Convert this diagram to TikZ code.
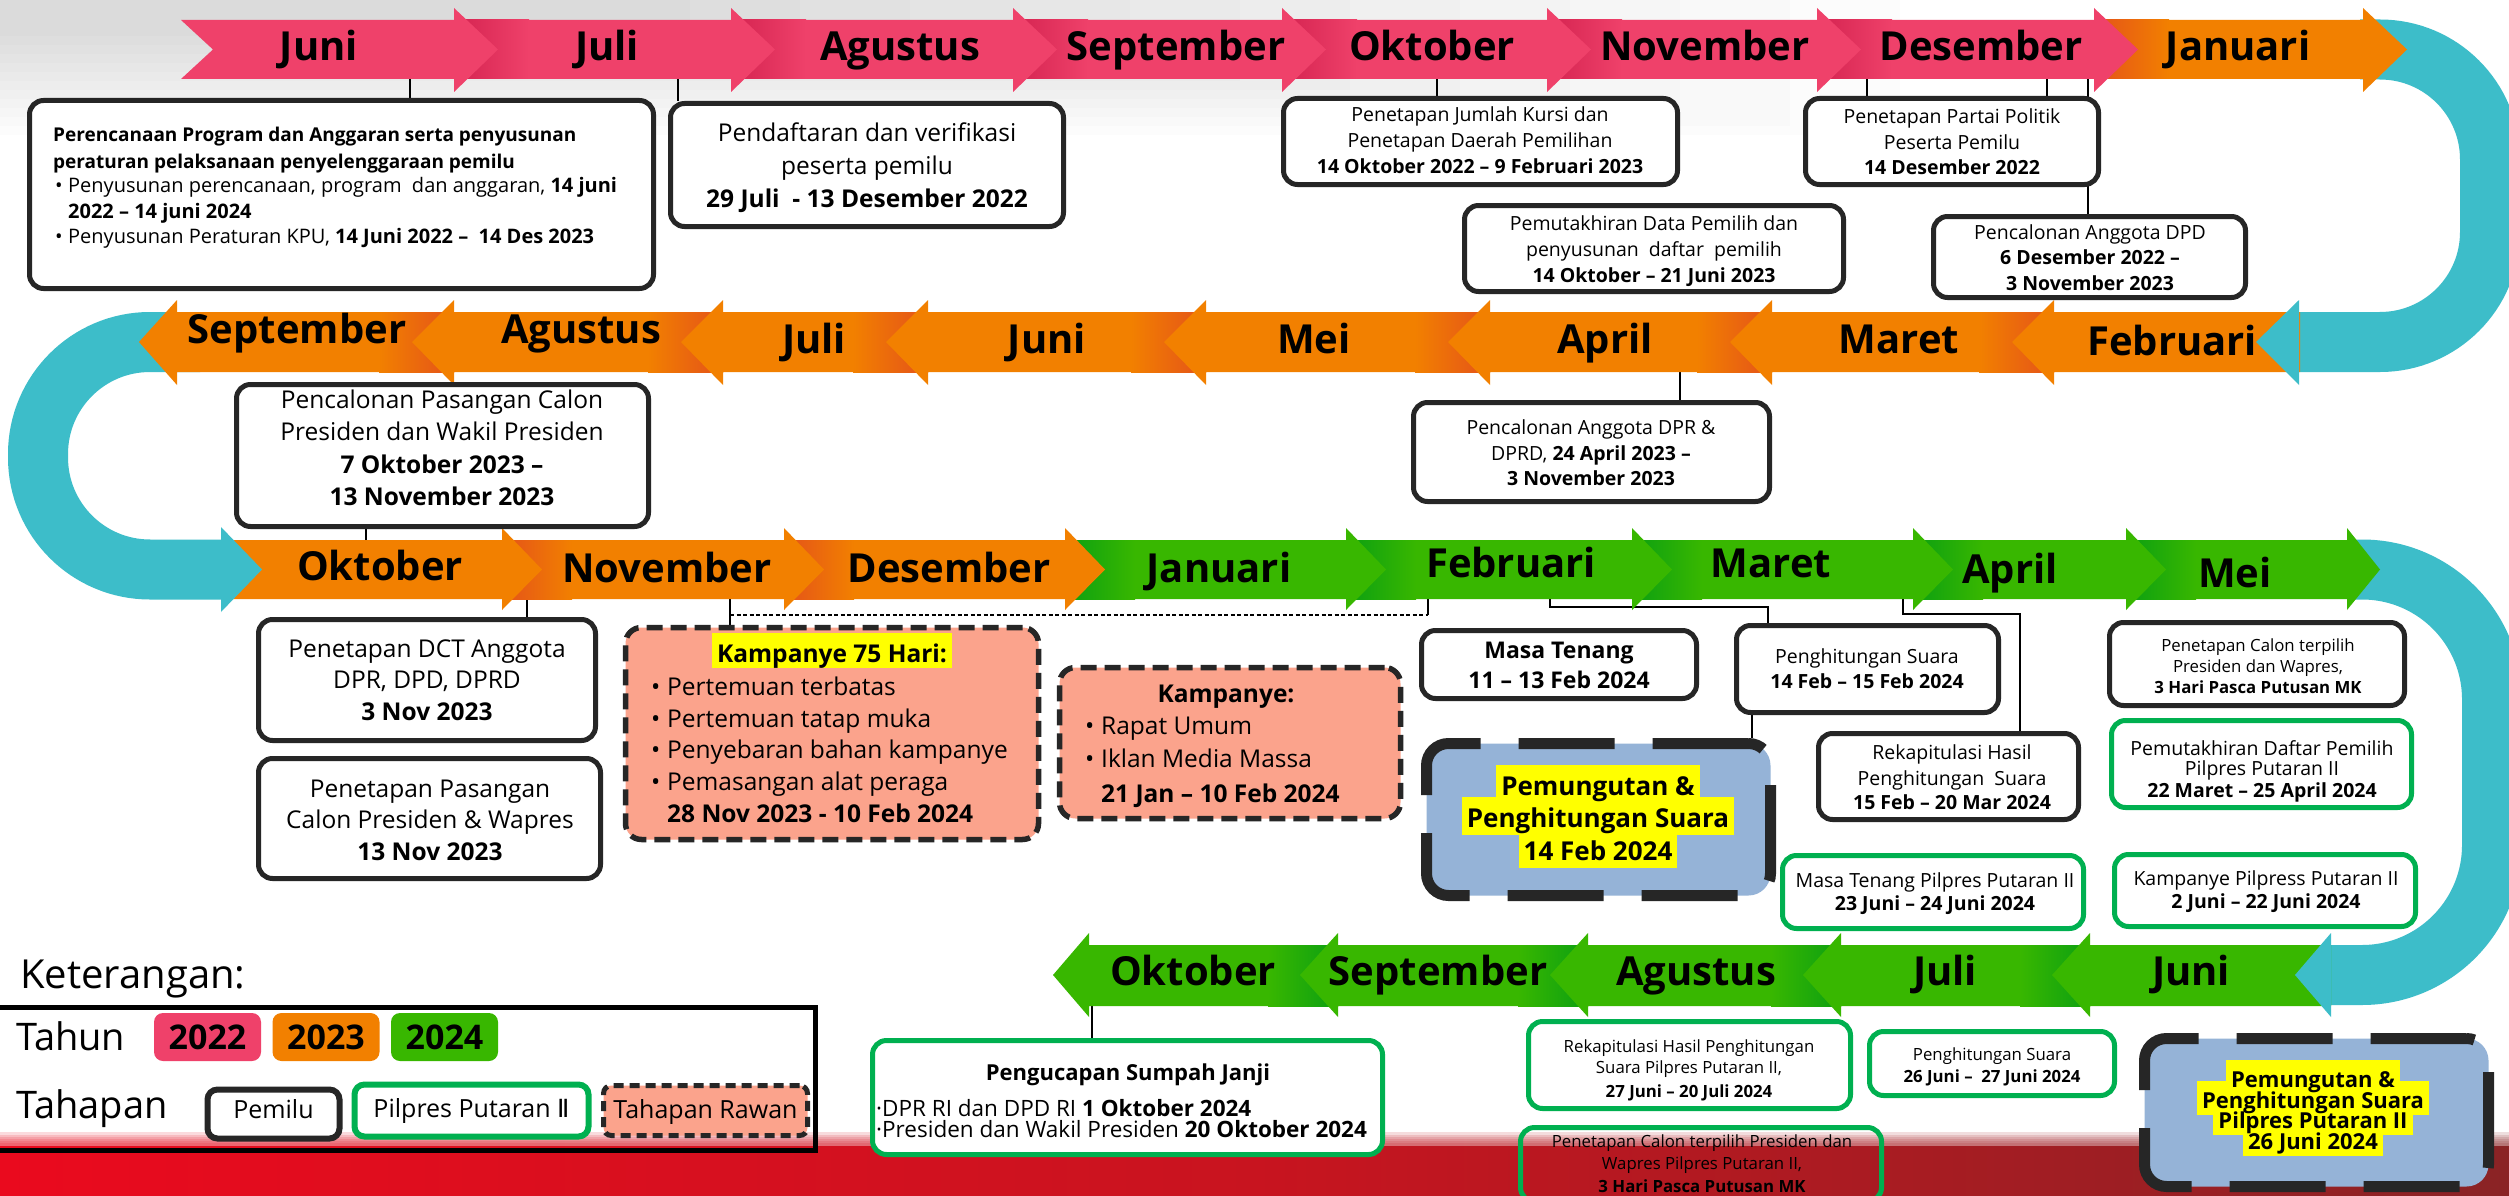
\documentclass[tikz,border=0pt]{standalone}
\usepackage{fontspec}
\setmainfont{Open Sans}
\newfontfamily\dejavu{DejaVu Sans}
\pgfdeclarelayer{bg}
\pgfsetlayers{bg,main}
\definecolor{pinkc}{HTML}{EF416A}
\definecolor{pinkd}{HTML}{D42350}
\definecolor{orangec}{HTML}{F28000}
\definecolor{oranged}{HTML}{E4521A}
\definecolor{greenc}{HTML}{38B700}
\definecolor{greend}{HTML}{0B9F12}
\definecolor{tealc}{HTML}{3DBDC9}
\definecolor{bdark}{HTML}{262626}
\definecolor{gbord}{HTML}{00B050}
\definecolor{salm}{HTML}{FBA38C}
\definecolor{bluef}{HTML}{95B3D7}
\definecolor{hly}{HTML}{FFFF00}
\definecolor{redl}{HTML}{EA0A1E}
\definecolor{redm}{HTML}{C8141F}
\definecolor{redr}{HTML}{8A2325}
\newcommand\fs[1]{\fontsize{#1}{#1}\selectfont}
\newcounter{tlc}
\newcommand\tline[4][]{\stepcounter{tlc}\node[tl,#1] (tl\number\value{tlc}) at (#2,#3) {#4};}
\newcommand\boxnode[6]{\node[#2, minimum width={#5-#3-5}, minimum height={#6-#4-5}] (#1) at ({(#3+#5)/2},{(#4+#6)/2}) {};}
\newcommand\setrow[5]{\def\rT{#1}\def\rB{#2}\def\eT{#3}\def\eB{#4}\def\rM{#5}}
\newcommand\segR[5]{\fill[#4] (#1,\rT) -- (#2,\rT) -- (#2,\eT) -- ({#2+#3},\rM) -- (#2,\eB) -- (#2,\rB) -- (#1,\rB) -- ({#1+#5},\rM) -- cycle;}
\newcommand\segL[4]{\fill[#4] (#2,\rT) -- (#1,\rT) -- (#1,\eT) -- ({#1-#3},\rM) -- (#1,\eB) -- (#1,\rB) -- (#2,\rB) -- cycle;}
\newcommand\shR[4]{\shade[left color=#4, right color=#3] (#1,\rT) rectangle ({#1+#2},\rB);}
\newcommand\shL[4]{\shade[left color=#3, right color=#4] ({#1-#2},\rT) rectangle (#1,\rB);}
\tikzset{
 tl/.style={anchor=base, inner sep=0pt, text=black},
 lw/.style={anchor=base west},
 bk/.style={draw=bdark, line width=5pt, fill=white, rounded corners=14pt, inner sep=0pt},
 gr/.style={draw=gbord, line width=5pt, fill=white, rounded corners=14pt, inner sep=0pt},
 grn/.style={draw=gbord, line width=5pt, rounded corners=14pt, inner sep=0pt},
 sal/.style={draw=bdark, line width=5.5pt, fill=salm, rounded corners=16pt, dash pattern=on 16pt off 8pt, inner sep=0pt},
 blu/.style={draw=bdark, line width=11pt, fill=bluef, rounded corners=22pt, dash pattern=on 96pt off 38pt, inner sep=0pt},
 hl/.style={fill=hly, anchor=base, inner xsep=5pt, inner ysep=0pt},
 mon/.style={anchor=base, inner sep=0pt, font=\fs{40}\bfseries},
 conn/.style={draw=black, line width=2.2pt},
 dotline/.style={draw=black, line width=2pt, dash pattern=on 4pt off 2.5pt},
 f19/.style={font=\fs{19.5}}, f195/.style={font=\fs{19.5}}, f20/.style={font=\fs{20}}, f245/.style={font=\fs{24.5}},
 f168/.style={font=\fs{16.8}}, f22/.style={font=\fs{22.5}}, f25/.style={font=\fs{25}},
 lbk/.style={draw=bdark, line width=6pt, fill=white, rounded corners=10pt, inner sep=0pt},
 lgr/.style={draw=gbord, line width=6pt, fill=white, rounded corners=10pt, inner sep=0pt},
 lsal/.style={draw=bdark, line width=5pt, fill=salm, rounded corners=8pt, dash pattern=on 10pt off 6pt, inner sep=0pt},
 yr/.style={rounded corners=9pt, inner sep=0pt, minimum width=107, minimum height=48, font=\fs{34}\bfseries},
}
\begin{document}
\begin{tikzpicture}[x=1pt,y=-1pt]
\useasboundingbox (0,0) rectangle (2509,1196);
\clip (0,0) rectangle (2509,1196);
\begin{pgfonlayer}{bg}
\fill[white] (0,0) rectangle (2509,1196);
\foreach \i in {0,...,11} {\fill[black, opacity=0.011] (0,0) rectangle ({1900-\i*110},{135-\i*9});}
\shade[left color=redl, right color=redr, middle color=redm] (0,1146) rectangle (2509,1196);
\foreach \i in {1,...,6} {\shade[left color=redl, right color=redr, middle color=redm, opacity=0.15] (0,{1146-\i*2.2}) rectangle (2509,1146);}
\end{pgfonlayer}

% teal U-turns
\draw[tealc, line width=60pt, rounded corners=110pt] (2360,49.5) -- (2490,49.5) -- (2490,342) -- (2299,342);
\draw[tealc, line width=60pt, rounded corners=112pt] (200,342) -- (38,342) -- (38,569.5) -- (222,569.5);
\draw[tealc, line width=60pt, rounded corners=130pt] (2350,569.5) -- (2492,569.5) -- (2492,975) -- (2331,975);

% row 1
\setrow{20}{79}{8}{92}{49.5}
\segR{2094}{2363}{44}{orangec}{0}\shR{2094}{75}{orangec}{oranged}
\segR{1817}{2094}{44}{pinkc}{0}\shR{1817}{75}{pinkc}{pinkd}
\segR{1547}{1817}{44}{pinkc}{0}\shR{1547}{75}{pinkc}{pinkd}
\segR{1282}{1547}{44}{pinkc}{0}\shR{1282}{75}{pinkc}{pinkd}
\segR{1013}{1282}{44}{pinkc}{0}\shR{1013}{75}{pinkc}{pinkd}
\segR{731}{1013}{44}{pinkc}{0}\shR{731}{75}{pinkc}{pinkd}
\segR{454}{731}{44}{pinkc}{0}\shR{454}{75}{pinkc}{pinkd}
\segR{181}{454}{44}{pinkc}{32}
% row 2
\setrow{312}{372}{300}{385}{342}
\segL{177}{454}{38}{orangec}\shL{454}{75}{orangec}{oranged}
\segL{454}{723}{42}{orangec}\shL{723}{75}{orangec}{oranged}
\segL{723}{928}{42}{orangec}\shL{928}{75}{orangec}{oranged}
\segL{928}{1206}{42}{orangec}\shL{1206}{75}{orangec}{oranged}
\segL{1206}{1490}{42}{orangec}\shL{1490}{75}{orangec}{oranged}
\segL{1490}{1772}{42}{orangec}\shL{1772}{75}{orangec}{oranged}
\segL{1772}{2054}{42}{orangec}\shL{2054}{75}{orangec}{oranged}
\segL{2054}{2300}{42}{orangec}
% row 3
\setrow{540}{599}{528}{610}{569.5}
\segR{2126}{2347}{33}{greenc}{0}\shR{2126}{70}{greenc}{greend}
\segR{1913}{2126}{40}{greenc}{0}\shR{1913}{70}{greenc}{greend}
\segR{1632}{1913}{40}{greenc}{0}\shR{1632}{70}{greenc}{greend}
\segR{1346}{1632}{40}{greenc}{0}\shR{1346}{70}{greenc}{greend}
\segR{1065}{1346}{40}{greenc}{0}\shR{1065}{70}{greenc}{greend}
\segR{784}{1065}{40}{orangec}{0}\shR{784}{70}{orangec}{oranged}
\segR{502}{784}{40}{orangec}{0}\shR{502}{70}{orangec}{oranged}
\segR{222}{502}{40}{orangec}{0}
% row 4
\setrow{945}{1006}{933}{1017}{975}
\segL{1089}{1338}{36}{greenc}\shL{1338}{70}{greenc}{greend}
\segL{1338}{1588}{38}{greenc}\shL{1588}{70}{greenc}{greend}
\segL{1588}{1841}{38}{greenc}\shL{1841}{70}{greenc}{greend}
\segL{1841}{2090}{38}{greenc}\shL{2090}{70}{greenc}{greend}
\segL{2090}{2331}{38}{greenc}

% teal heads
\fill[tealc] (2299,300) -- (2256,342) -- (2299,385) -- cycle;
\fill[tealc] (221,527) -- (262,569.5) -- (221,612) -- cycle;
\fill[tealc] (2331,933) -- (2295,975) -- (2331,1017) -- cycle;

% month labels
\node[mon] (m1) at (319,60.5) {Juni};
\node[mon] (m2) at (607,60.5) {Juli};
\node[mon] (m3) at (900,60.5) {Agustus};
\node[mon] (m4) at (1176,60.5) {September};
\node[mon] (m5) at (1432,60.5) {Oktober};
\node[mon] (m6) at (1705,60.5) {November};
\node[mon] (m7) at (1981,60.5) {Desember};
\node[mon] (m8) at (2238,60.5) {Januari};
\node[mon] (n1) at (297,343) {September};
\node[mon] (n2) at (581,343) {Agustus};
\node[mon] (n3) at (814,353) {Juli};
\node[mon] (n4) at (1047,353) {Juni};
\node[mon] (n5) at (1314,353) {Mei};
\node[mon] (n6) at (1605,353) {April};
\node[mon] (n7) at (1899,353) {Maret};
\node[mon] (n8) at (2172,355) {Februari};
\node[mon] (o1) at (380,580) {Oktober};
\node[mon] (o2) at (667,582) {November};
\node[mon] (o3) at (949,582) {Desember};
\node[mon] (o4) at (1219,582) {Januari};
\node[mon] (o5) at (1511,577) {Februari};
\node[mon] (o6) at (1771,577) {Maret};
\node[mon] (o7) at (2010,583) {April};
\node[mon] (o8) at (2235,587) {Mei};
\node[mon] (p1) at (1193,985) {Oktober};
\node[mon] (p2) at (1438,985) {September};
\node[mon] (p3) at (1696,985) {Agustus};
\node[mon] (p4) at (1945,985) {Juli};
\node[mon] (p5) at (2191,985) {Juni};

% boxes
\boxnode{b1}{bk}{27}{98}{656}{291}
\boxnode{b2}{bk}{668}{101}{1066}{229}
\boxnode{b3}{bk}{1281}{96}{1680}{187}
\boxnode{b4}{bk}{1803}{96}{2101}{187}
\boxnode{b5}{bk}{1462}{203}{1846}{294}
\boxnode{b6}{bk}{1931}{214}{2248}{300}
\boxnode{b7}{bk}{234}{382}{651}{529}
\boxnode{b8}{bk}{1411}{400}{1772}{504}
\boxnode{b9}{bk}{256}{617}{598}{743}
\boxnode{b10}{bk}{256}{756}{603}{881}
\boxnode{b11}{sal}{623}{625}{1041}{842}
\boxnode{b12}{sal}{1057}{665}{1403}{821}
\boxnode{b13}{bk}{1419}{628}{1699}{701}
\boxnode{b14}{bk}{1734}{623}{2001}{715}
\boxnode{b15}{bk}{1816}{731}{2081}{822}
\boxnode{b16}{blu}{1424}{741}{1773}{898}
\boxnode{b17}{bk}{2107}{620}{2407}{708}
\boxnode{b18}{gr}{2109}{718}{2414}{810}
\boxnode{b19}{gr}{1780}{853}{2086}{931}
\boxnode{b20}{gr}{2112}{852}{2418}{929}
\boxnode{b21}{gr}{870}{1038}{1385}{1157}
\boxnode{b22}{gr}{1526}{1019}{1853}{1111}
\boxnode{b23}{grn}{1518}{1125}{1884}{1204}
\boxnode{b24}{gr}{1867}{1029}{2117}{1098}
\boxnode{b25}{blu}{2142}{1036}{2491}{1189}

% texts
\tline[lw,font=\fs{19}]{53}{142}{\textbf{Perencanaan Program dan Anggaran serta penyusunan}}
\tline[lw,font=\fs{19}]{53}{168}{\textbf{peraturan pelaksanaan penyelenggaraan pemilu}}
\tline[lw,f20]{55}{193}{\makebox[13pt][l]{•}Penyusunan perencanaan, program\ \ dan anggaran, \textbf{14 juni}}
\tline[lw,f20]{68}{218}{\textbf{2022 – 14 juni 2024}}
\tline[lw,f20]{55}{243}{\makebox[13pt][l]{•}Penyusunan Peraturan KPU, \textbf{14 Juni 2022 –\ \ 14 Des 2023}}

\tline[f245]{867}{142}{Pendaftaran dan verifikasi}
\tline[f245]{867}{174.5}{peserta pemilu}
\tline[f245]{867}{207}{\textbf{29 Juli\ \ - 13 Desember 2022}}

\tline[f19]{1480}{122}{Penetapan Jumlah Kursi dan}
\tline[f19]{1480}{147.5}{Penetapan Daerah Pemilihan}
\tline[f19]{1480}{173}{\textbf{14 Oktober 2022 – 9 Februari 2023}}

\tline[f19]{1952}{124}{Penetapan Partai Politik}
\tline[f19]{1952}{149.5}{Peserta Pemilu}
\tline[f19]{1952}{175}{\textbf{14 Desember 2022}}

\tline[f19]{1654}{230}{Pemutakhiran Data Pemilih dan}
\tline[f19]{1654}{256}{penyusunan\ \ daftar\ \ pemilih}
\tline[f19]{1654}{282}{\textbf{14 Oktober – 21 Juni 2023}}

\tline[f19]{2090}{239}{Pencalonan Anggota DPD}
\tline[f19]{2090}{264.5}{\textbf{6 Desember 2022 –}}
\tline[f19]{2090}{290}{\textbf{3 November 2023}}

\tline[f245]{442}{408}{Pencalonan Pasangan Calon}
\tline[f245]{442}{440}{Presiden dan Wakil Presiden}
\tline[f245]{442}{473}{\textbf{7 Oktober 2023 –}}
\tline[f245]{442}{505}{\textbf{13 November 2023}}

\tline[f19]{1591}{434}{Pencalonan Anggota DPR \&}
\tline[f19]{1591}{460}{DPRD, \textbf{24 April 2023 –}}
\tline[f19]{1591}{485}{\textbf{3 November 2023}}

\tline[f245]{427}{657}{Penetapan DCT Anggota}
\tline[f245]{427}{688}{DPR, DPD, DPRD}
\tline[f245]{427}{720}{\textbf{3 Nov 2023}}

\tline[f245]{430}{797}{Penetapan Pasangan}
\tline[f245]{430}{828}{Calon Presiden \& Wapres}
\tline[f245]{430}{860}{\textbf{13 Nov 2023}}

\node[hl, font=\fs{24.5}\bfseries, text height=29pt, text depth=6pt] (t11) at (832,662) {Kampanye 75 Hari:};
\tline[lw,f245]{651}{695}{\makebox[16pt][l]{•}Pertemuan terbatas}
\tline[lw,f245]{651}{727}{\makebox[16pt][l]{•}Pertemuan tatap muka}
\tline[lw,f245]{651}{758}{\makebox[16pt][l]{•}Penyebaran bahan kampanye}
\tline[lw,f245]{651}{790}{\makebox[16pt][l]{•}Pemasangan alat peraga}
\tline[lw,f245]{667}{822}{\textbf{28 Nov 2023 - 10 Feb 2024}}

\tline[f245]{1226}{702}{\textbf{Kampanye:}}
\tline[lw,f245]{1085}{734}{\makebox[16pt][l]{•}Rapat Umum}
\tline[lw,f245]{1085}{767}{\makebox[16pt][l]{•}Iklan Media Massa}
\tline[lw,f245]{1101}{802}{\textbf{21 Jan – 10 Feb 2024}}

\tline[font=\fs{23}\bfseries]{1559}{658}{Masa Tenang}
\tline[font=\fs{23}\bfseries]{1559}{688}{11 – 13 Feb 2024}

\tline[f195]{1867}{663}{Penghitungan Suara}
\tline[f195]{1867}{688}{\textbf{14 Feb – 15 Feb 2024}}

\tline[f195]{1952}{759}{Rekapitulasi Hasil}
\tline[f195]{1952}{785}{Penghitungan\ \ Suara}
\tline[f195]{1952}{809}{\textbf{15 Feb – 20 Mar 2024}}

\node[hl, font=\fs{26}\bfseries, text height=30pt, text depth=8pt] (h16a) at (1598,795) {\phantom{Pemungutan \&}};
\node[hl, font=\fs{26}\bfseries, text height=30pt, text depth=8pt] (h16b) at (1598,827) {\phantom{Penghitungan Suara}};
\node[hl, font=\fs{26}\bfseries, text height=30pt, text depth=8pt] (h16c) at (1598,860) {\phantom{14 Feb 2024}};
\tline[font=\fs{26}\bfseries]{1598}{795}{Pemungutan \&}
\tline[font=\fs{26}\bfseries]{1598}{827}{Penghitungan Suara}
\tline[font=\fs{26}\bfseries]{1598}{860}{14 Feb 2024}

\tline[f168]{2258}{651}{Penetapan Calon terpilih}
\tline[f168]{2258}{672}{Presiden dan Wapres,}
\tline[f168]{2258}{693}{\textbf{3 Hari Pasca Putusan MK}}

\tline[f19]{2262}{755}{Pemutakhiran Daftar Pemilih}
\tline[f19]{2262}{775}{Pilpres Putaran II}
\tline[f19]{2262}{797}{\textbf{22 Maret – 25 April 2024}}

\tline[f19]{1935}{887}{Masa Tenang Pilpres Putaran II}
\tline[f19]{1935}{910}{\textbf{23 Juni – 24 Juni 2024}}

\tline[f19]{2266}{885}{Kampanye Pilpress Putaran II}
\tline[f19]{2266}{908}{\textbf{2 Juni – 22 Juni 2024}}

\tline[font=\fs{22}\bfseries]{1128}{1080}{Pengucapan Sumpah Janji}
\tline[lw,f22]{876}{1116}{·DPR RI dan DPD RI \textbf{1 Oktober 2024}}
\tline[lw,f22]{876}{1137}{·Presiden dan Wakil Presiden \textbf{20 Oktober 2024}}

\tline[f168]{1689}{1052}{Rekapitulasi Hasil Penghitungan}
\tline[f168]{1689}{1073}{Suara Pilpres Putaran II,}
\tline[f168]{1689}{1097}{\textbf{27 Juni – 20 Juli 2024}}

\tline[f168]{1702}{1147}{Penetapan Calon terpilih Presiden dan}
\tline[f168]{1702}{1169}{Wapres Pilpres Putaran II,}
\tline[f168]{1702}{1192}{\textbf{3 Hari Pasca Putusan MK}}

\tline[f168]{1992}{1060}{Penghitungan Suara}
\tline[f168]{1992}{1082}{\textbf{26 Juni –\ \ 27 Juni 2024}}

\node[hl, font=\fs{22}\bfseries, text height=27pt, text depth=7pt] (h25a) at (2313,1087) {\phantom{Pemungutan \&}};
\node[hl, font=\fs{22}\bfseries, text height=27pt, text depth=7pt] (h25b) at (2313,1108) {\phantom{Penghitungan Suara}};
\node[hl, font=\fs{22}\bfseries, text height=27pt, text depth=7pt] (h25c) at (2313,1128) {\phantom{Pilpres Putaran II}};
\node[hl, font=\fs{22}\bfseries, text height=27pt, text depth=7pt] (h25d) at (2313,1149) {\phantom{26 Juni 2024}};
\tline[font=\fs{22}\bfseries]{2313}{1087}{Pemungutan \&}
\tline[font=\fs{22}\bfseries]{2313}{1108}{Penghitungan Suara}
\tline[font=\fs{22}\bfseries]{2313}{1128}{Pilpres Putaran II}
\tline[font=\fs{22}\bfseries]{2313}{1149}{26 Juni 2024}

% legend
\node[anchor=base west, inner sep=0pt, font=\fs{40}] (ket) at (20,988) {Keterangan:};
\node[draw=black, line width=5pt, minimum width=818, minimum height=143, inner sep=0pt] (leg) at (406,1078.5) {};
\node[anchor=base west, inner sep=0pt, font=\fs{38}] (tahun) at (16,1050) {Tahun};
\node[anchor=base west, inner sep=0pt, font=\fs{38}] (tahapan) at (16,1118) {Tahapan};
\node[yr, fill=pinkc] (y22) at (207.5,1037) {2022};
\node[yr, fill=orangec] (y23) at (326,1037) {2023};
\node[yr, fill=greenc] (y24) at (444.5,1037) {2024};
\boxnode{lpem}{lbk}{205}{1087}{342}{1141}
\boxnode{lpil}{lgr}{352}{1082}{591}{1139}
\boxnode{lraw}{lsal}{601}{1083}{810}{1138}
\tline[f25]{273.5}{1118}{Pemilu}
\tline[f25]{471.5}{1117}{Pilpres Putaran {\dejavu Ⅱ}}
\tline[f25]{705.5}{1118}{Tahapan Rawan}

% connectors (behind boxes)
\begin{pgfonlayer}{bg}
\coordinate (k1) at (410,79); \draw[conn] (k1) -- (k1 |- b1.north);
\coordinate (k2) at (678,79); \draw[conn] (k2) -- (k2 |- b2.north);
\coordinate (k3) at (1437,79); \draw[conn] (k3) -- (k3 |- b3.north);
\coordinate (k4) at (1867,79); \draw[conn] (k4) -- (k4 |- b4.north);
\coordinate (k5) at (2047,79); \draw[conn] (k5) -- (k5 |- b4.north);
\coordinate (k6) at (2088,79); \draw[conn] (k6) -- (k6 |- b6.north);
\coordinate (k7) at (366,540); \draw[conn] (b7.south -| k7) -- (k7);
\coordinate (k8) at (1680,372); \draw[conn] (k8) -- (k8 |- b8.north);
\coordinate (k9) at (527,599); \draw[conn] (k9) -- (k9 |- b9.north);
\coordinate (k10) at (730,599); \draw[conn] (k10) -- (k10 |- b11.north);
\coordinate (k10b) at (1428,599); \coordinate (k10c) at (730,615); \coordinate (k10d) at (1428,615);
\draw[conn] (k10b) -- (k10d); \draw[dotline] (k10c) -- (k10d);
\coordinate (k11) at (1550,599); \coordinate (k11b) at (1768,607);
\draw[conn] (k11) |- (k11b) -- (k11b |- b14.north);
\coordinate (k12) at (1903,599); \coordinate (k12b) at (2020,614);
\draw[conn] (k12) |- (k12b) -- (k12b |- b15.north);
\coordinate (k13) at (1752,700); \draw[conn] (b14.south -| k13) -- (b16.north -| k13);
\coordinate (k14) at (1092,1006); \draw[conn] (k14) -- (k14 |- b21.north);
\end{pgfonlayer}
\end{tikzpicture}
\end{document}
